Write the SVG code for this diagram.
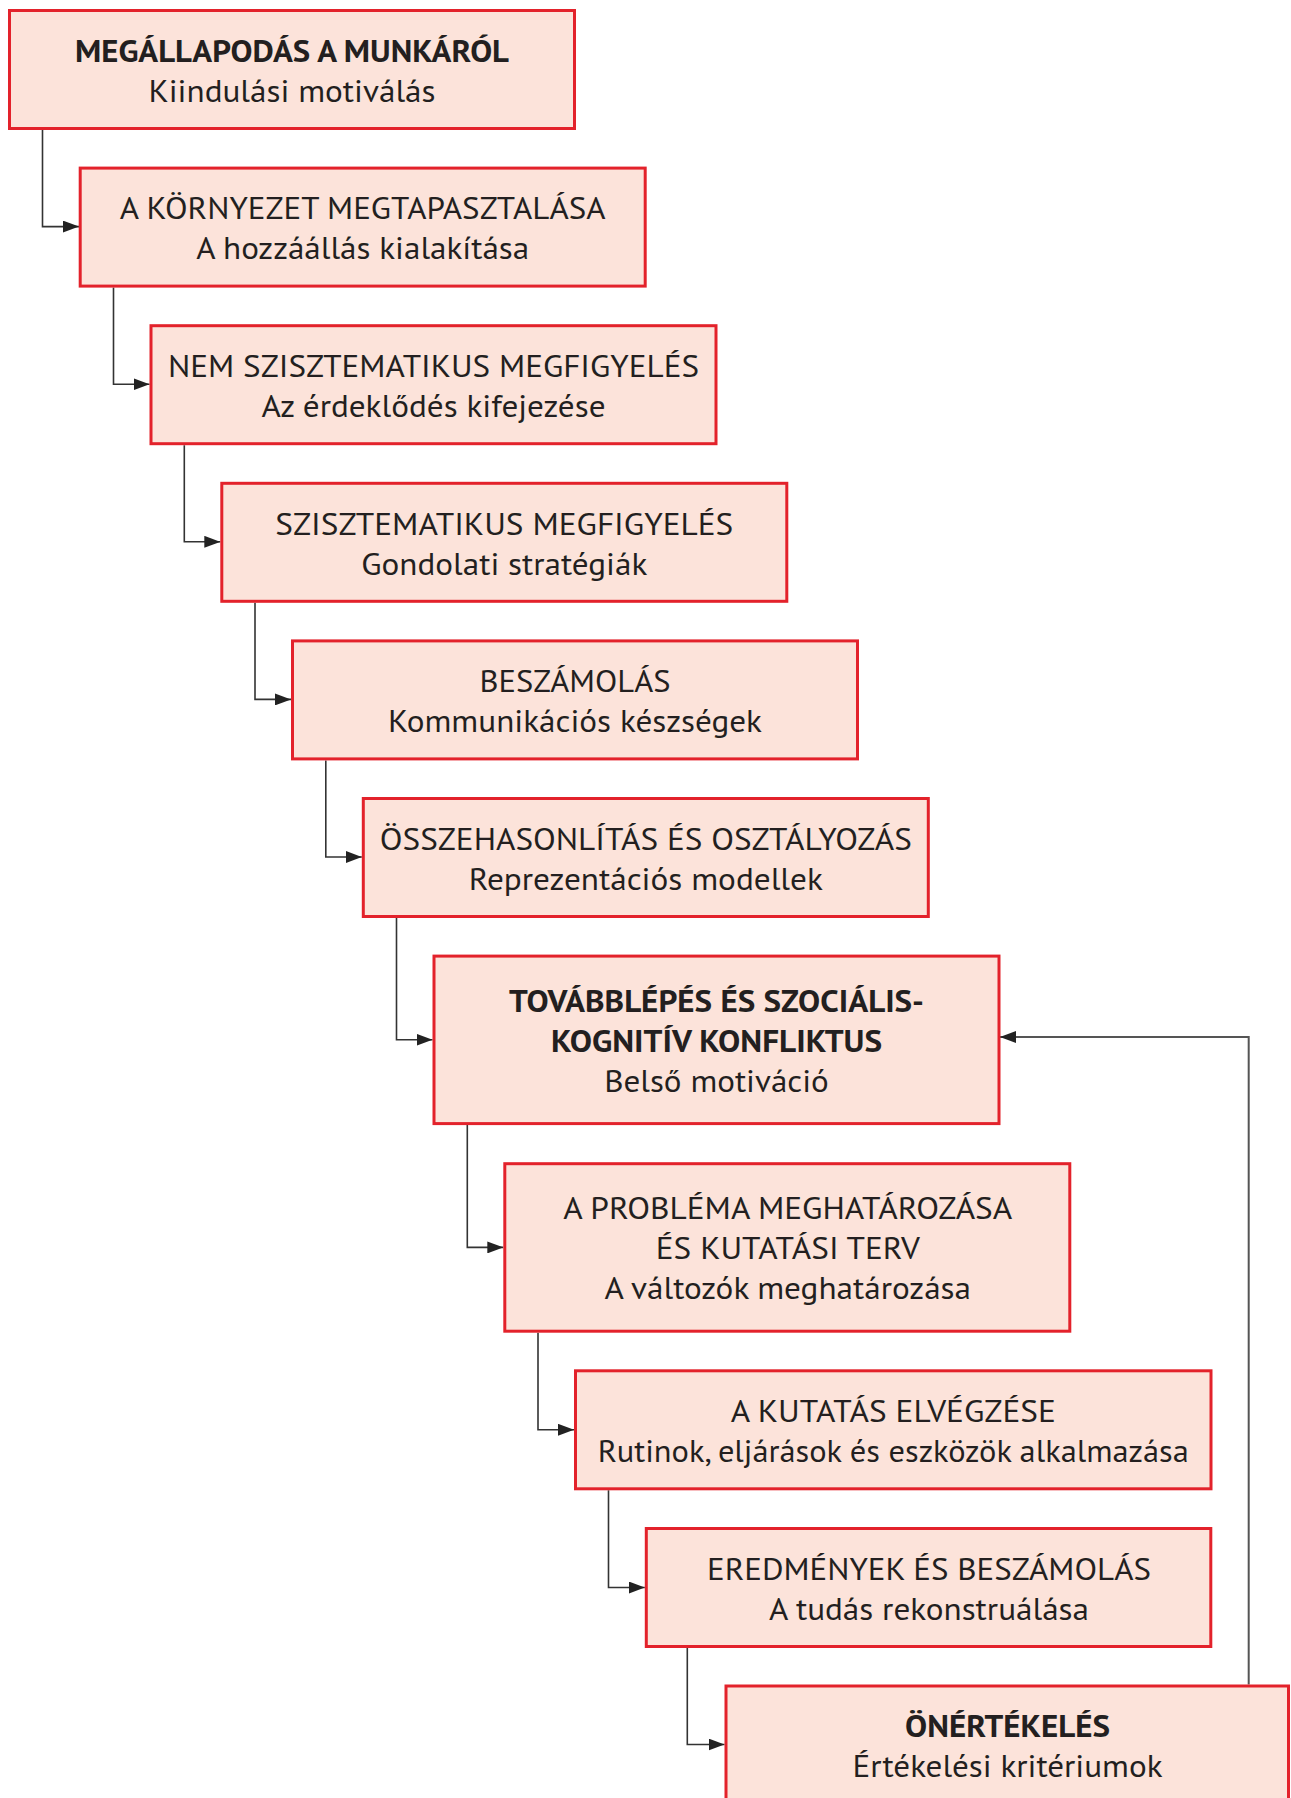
<svg xmlns="http://www.w3.org/2000/svg" width="1291" height="1798" viewBox="0 0 1291 1798">
<style>
.box{fill:#fce3da;stroke:#e3222b;stroke-width:3}
.t{font-family:"PT Sans","Noto Sans","Liberation Sans",sans-serif;font-size:31px;fill:#231f20;text-anchor:middle}
.b{font-weight:bold}
.c{fill:none;stroke:#333;stroke-width:1.6}
.f{fill:none;stroke:#555;stroke-width:2}
</style>
<defs>
<marker id="ah" viewBox="0 0 16 12" refX="16" refY="6" markerWidth="16" markerHeight="12" markerUnits="userSpaceOnUse" orient="auto">
<path d="M0,0 L16,6 L0,12 z" fill="#222"/>
</marker>
</defs>
<rect width="1291" height="1798" fill="#fff"/>
<g id="connectors">
<path class="c" d="M42.5,130 V226.6 H79" marker-end="url(#ah)"/>
<path class="c" d="M113.5,287.6 V384.2 H149.5" marker-end="url(#ah)"/>
<path class="c" d="M184.3,445.2 V541.8 H220.3" marker-end="url(#ah)"/>
<path class="c" d="M255,602.8 V699.4 H291" marker-end="url(#ah)"/>
<path class="c" d="M325.8,760.4 V857 H361.8" marker-end="url(#ah)"/>
<path class="c" d="M396.5,918 V1039.8 H432.5" marker-end="url(#ah)"/>
<path class="c" d="M467.3,1125.1 V1247.4 H503.3" marker-end="url(#ah)"/>
<path class="c" d="M538,1332.7 V1429.8 H574" marker-end="url(#ah)"/>
<path class="c" d="M608.5,1490.3 V1587.5 H644.8" marker-end="url(#ah)"/>
<path class="c" d="M687.3,1648 V1744.5 H724.5" marker-end="url(#ah)"/>
<path class="f" d="M1248.7,1684.5 V1037 H1000" marker-end="url(#ah)"/>
</g>
<g id="n1">
<rect class="box" x="9.5" y="10.5" width="565" height="118"/>
<text class="t b" x="292" y="61.7" textLength="434" lengthAdjust="spacingAndGlyphs">MEGÁLLAPODÁS A MUNKÁRÓL</text>
<text class="t" x="292" y="101.7" textLength="287" lengthAdjust="spacingAndGlyphs">Kiindulási motiválás</text>
</g>
<g id="n2">
<rect class="box" x="80.2" y="168.1" width="565" height="118"/>
<text class="t" x="362.7" y="219.3" textLength="486" lengthAdjust="spacingAndGlyphs">A KÖRNYEZET MEGTAPASZTALÁSA</text>
<text class="t" x="362.7" y="259.3" textLength="333" lengthAdjust="spacingAndGlyphs">A hozzáállás kialakítása</text>
</g>
<g id="n3">
<rect class="box" x="151" y="325.7" width="565" height="118"/>
<text class="t" x="433.5" y="376.9" textLength="531" lengthAdjust="spacingAndGlyphs">NEM SZISZTEMATIKUS MEGFIGYELÉS</text>
<text class="t" x="433.5" y="416.9" textLength="344" lengthAdjust="spacingAndGlyphs">Az érdeklődés kifejezése</text>
</g>
<g id="n4">
<rect class="box" x="221.8" y="483.3" width="565" height="118"/>
<text class="t" x="504.3" y="534.5" textLength="458" lengthAdjust="spacingAndGlyphs">SZISZTEMATIKUS MEGFIGYELÉS</text>
<text class="t" x="504.3" y="574.5" textLength="286" lengthAdjust="spacingAndGlyphs">Gondolati stratégiák</text>
</g>
<g id="n5">
<rect class="box" x="292.5" y="640.9" width="565" height="118"/>
<text class="t" x="575" y="692.1" textLength="191" lengthAdjust="spacingAndGlyphs">BESZÁMOLÁS</text>
<text class="t" x="575" y="732.1" textLength="374" lengthAdjust="spacingAndGlyphs">Kommunikációs készségek</text>
</g>
<g id="n6">
<rect class="box" x="363.3" y="798.5" width="565" height="118"/>
<text class="t" x="645.8" y="849.7" textLength="532" lengthAdjust="spacingAndGlyphs">ÖSSZEHASONLÍTÁS ÉS OSZTÁLYOZÁS</text>
<text class="t" x="645.8" y="889.7" textLength="354" lengthAdjust="spacingAndGlyphs">Reprezentációs modellek</text>
</g>
<g id="n7">
<rect class="box" x="434" y="956.1" width="565" height="167.5"/>
<text class="t b" x="716.5" y="1012.2" textLength="415" lengthAdjust="spacingAndGlyphs">TOVÁBBLÉPÉS ÉS SZOCIÁLIS-</text>
<text class="t b" x="716.5" y="1051.7" textLength="331" lengthAdjust="spacingAndGlyphs">KOGNITÍV KONFLIKTUS</text>
<text class="t" x="716.5" y="1091.5" textLength="224.5" lengthAdjust="spacingAndGlyphs">Belső motiváció</text>
</g>
<g id="n8">
<rect class="box" x="504.8" y="1163.7" width="565" height="167.5"/>
<text class="t" x="787.8" y="1219" textLength="449" lengthAdjust="spacingAndGlyphs">A PROBLÉMA MEGHATÁROZÁSA</text>
<text class="t" x="787.8" y="1259" textLength="264" lengthAdjust="spacingAndGlyphs">ÉS KUTATÁSI TERV</text>
<text class="t" x="787.8" y="1299" textLength="366.5" lengthAdjust="spacingAndGlyphs">A változók meghatározása</text>
</g>
<g id="n9">
<rect class="box" x="575.5" y="1370.8" width="635.5" height="118"/>
<text class="t" x="893.3" y="1422" textLength="325" lengthAdjust="spacingAndGlyphs">A KUTATÁS ELVÉGZÉSE</text>
<text class="t" x="893.3" y="1462" textLength="591" lengthAdjust="spacingAndGlyphs">Rutinok, eljárások és eszközök alkalmazása</text>
</g>
<g id="n10">
<rect class="box" x="646.3" y="1528.5" width="564.5" height="118"/>
<text class="t" x="929" y="1579.7" textLength="444" lengthAdjust="spacingAndGlyphs">EREDMÉNYEK ÉS BESZÁMOLÁS</text>
<text class="t" x="929" y="1619.7" textLength="320" lengthAdjust="spacingAndGlyphs">A tudás rekonstruálása</text>
</g>
<g id="n11">
<rect class="box" x="726" y="1686" width="562.5" height="118"/>
<text class="t b" x="1007.5" y="1736.5" textLength="205" lengthAdjust="spacingAndGlyphs">ÖNÉRTÉKELÉS</text>
<text class="t" x="1007.5" y="1776.5" textLength="310" lengthAdjust="spacingAndGlyphs">Értékelési kritériumok</text>
</g>
</svg>
